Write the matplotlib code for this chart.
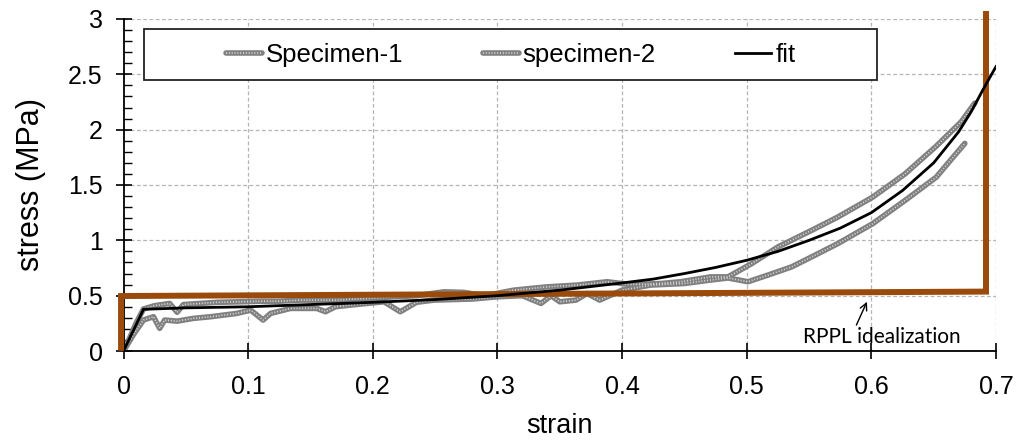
import matplotlib
matplotlib.use("Agg")
import matplotlib.pyplot as plt
from matplotlib.lines import Line2D
from matplotlib.patches import Rectangle
from matplotlib.ticker import MultipleLocator

plt.rcParams['font.family'] = ['Liberation Sans', 'DejaVu Sans']

# ---------------- data ----------------
spec1_strain = [0, 0.005, 0.010, 0.016, 0.025, 0.037, 0.043, 0.048, 0.061, 0.075, 0.094,
                0.11, 0.125, 0.142, 0.155, 0.17, 0.195, 0.217, 0.235, 0.257, 0.273,
                0.29, 0.313, 0.34, 0.364, 0.388, 0.407, 0.431, 0.447, 0.471, 0.485,
                0.504, 0.525, 0.552, 0.573, 0.601, 0.627, 0.652, 0.672, 0.683]
spec1_stress = [0, 0.12, 0.25, 0.38, 0.41, 0.43, 0.35, 0.42, 0.43, 0.44, 0.445,
                0.45, 0.45, 0.46, 0.46, 0.46, 0.475, 0.49, 0.50, 0.535, 0.53,
                0.50, 0.55, 0.58, 0.596, 0.626, 0.60, 0.61, 0.626, 0.67, 0.67,
                0.79, 0.94, 1.09, 1.21, 1.39, 1.60, 1.85, 2.07, 2.24]

spec2_strain = [0, 0.008, 0.016, 0.024, 0.029, 0.033, 0.043, 0.056, 0.07, 0.091, 0.102,
                0.112, 0.118, 0.134, 0.155, 0.162, 0.17, 0.182, 0.209, 0.222, 0.235,
                0.249, 0.28, 0.3, 0.32, 0.335, 0.343, 0.35, 0.363, 0.372, 0.382, 0.4,
                0.423, 0.45, 0.47, 0.485, 0.501, 0.517, 0.536, 0.552, 0.573, 0.601,
                0.627, 0.652, 0.675]
spec2_stress = [0, 0.15, 0.28, 0.31, 0.205, 0.28, 0.27, 0.295, 0.31, 0.34, 0.37,
                0.28, 0.34, 0.385, 0.385, 0.355, 0.40, 0.415, 0.445, 0.355, 0.44,
                0.46, 0.47, 0.49, 0.50, 0.43, 0.50, 0.445, 0.46, 0.52, 0.46, 0.55,
                0.596, 0.61, 0.64, 0.66, 0.626, 0.686, 0.76, 0.85, 0.97, 1.15,
                1.36, 1.57, 1.876]

fit_strain = [0, 0.016, 0.05, 0.1, 0.15, 0.2, 0.25, 0.3, 0.35, 0.4, 0.425, 0.45, 0.475,
              0.5, 0.525, 0.55, 0.575, 0.6, 0.625, 0.65, 0.67, 0.68, 0.69, 0.7]
fit_stress = [0, 0.377, 0.39, 0.40, 0.42, 0.44, 0.465, 0.50, 0.55, 0.615, 0.65, 0.70, 0.755,
              0.82, 0.90, 1.0, 1.11, 1.25, 1.45, 1.70, 1.98, 2.16, 2.37, 2.57]

rppl_strain = [-0.002, -0.002, 0.692, 0.692]
rppl_stress = [0.03, 0.497, 0.537, 3.045]

legend_labels = ['Specimen-1', 'specimen-2', 'fit']
annot_text = 'RPPL idealization'
annot_head = (0.5965, 0.445)
annot_tail = (0.588, 0.235)
annot_pos = (0.6085, 0.125)
x_ticks = [0, 0.1, 0.2, 0.3, 0.4, 0.5, 0.6, 0.7]
x_ticklabels = ['0', '0.1', '0.2', '0.3', '0.4', '0.5', '0.6', '0.7']
y_ticks = [0, 0.5, 1, 1.5, 2, 2.5, 3]
y_ticklabels = ['0', '0.5', '1', '1.5', '2', '2.5', '3']

# ---------------- figure ----------------
fig = plt.figure(figsize=(10.21, 4.41), dpi=100)
ax = fig.add_axes([0.121, 0.204, 0.8545, 0.753])

BROWN = '#9A4A0B'
GRAY_BAND = dict(color='#808080', lw=4.0, solid_capstyle='round')
GRAY_DOTS = dict(color='#dddddd', lw=1.2, linestyle=(0, (0.6, 1.1)))

# grid
for xv in x_ticks[1:]:
    ax.axvline(xv, color='#b4b4b4', lw=0.9, dashes=(3, 2), zorder=0)
for yv in y_ticks[1:]:
    ax.axhline(yv, color='#b4b4b4', lw=0.9, dashes=(3, 2), zorder=0)

# specimen curves (textured gray)
for xs, ys in [(spec1_strain, spec1_stress), (spec2_strain, spec2_stress)]:
    ax.plot(xs, ys, zorder=2, **GRAY_BAND)
    ax.plot(xs, ys, zorder=2.1, **GRAY_DOTS)

# RPPL idealization
ax.plot(rppl_strain, rppl_stress, color=BROWN, lw=4.3, zorder=3, clip_on=False,
        solid_joinstyle='miter')

# fit
ax.plot(fit_strain, fit_stress, color='black', lw=2.0, zorder=4)

ax.set_xlim(0, 0.7)
ax.set_ylim(0, 3)

for s in ['top', 'right']:
    ax.spines[s].set_visible(False)
for s in ['left', 'bottom']:
    ax.spines[s].set_linewidth(1.3)

ax.set_xticks(x_ticks)
ax.set_xticklabels(x_ticklabels)
ax.set_yticks(y_ticks)
ax.set_yticklabels(y_ticklabels)
ax.yaxis.set_minor_locator(MultipleLocator(0.1))
ax.tick_params(axis='both', which='major', direction='inout', length=12, width=1.2,
               labelsize=18, colors='black')
ax.tick_params(axis='x', which='major', pad=11)
ax.tick_params(axis='y', which='major', pad=9)
ax.tick_params(axis='y', which='minor', direction='in', length=6, width=1.0)

ax.set_xlabel('strain', fontsize=19.5, labelpad=10.5)
ax.set_ylabel('stress (MPa)', fontsize=22, labelpad=16)

# annotation
ax.annotate('', xy=annot_head, xytext=annot_tail,
            arrowprops=dict(arrowstyle='->,head_length=0.5,head_width=0.25',
                            color='black', lw=1.0, shrinkA=0, shrinkB=0))
ax.text(annot_pos[0], annot_pos[1], annot_text, fontsize=15,
        family=['Lato', 'DejaVu Sans'], ha='center', va='center')

# legend box + legend
ax.add_patch(Rectangle((0.0235, 0.816), 0.8401, 0.153, transform=ax.transAxes,
                       facecolor='white', edgecolor='#222222', lw=1.3, zorder=5))
h1 = (Line2D([], [], **GRAY_BAND), Line2D([], [], **GRAY_DOTS))
h2 = (Line2D([], [], **GRAY_BAND), Line2D([], [], **GRAY_DOTS))
h3 = Line2D([], [], color='black', lw=2.0)
leg = ax.legend([h1, h2, h3], legend_labels, loc='center', bbox_to_anchor=(0.4436, 0.8925),
                ncol=3, frameon=False, fontsize=18.5, handlelength=1.4,
                handletextpad=0.15, columnspacing=3.1)
leg.set_zorder(6)

fig.savefig('out.png', dpi=100)
